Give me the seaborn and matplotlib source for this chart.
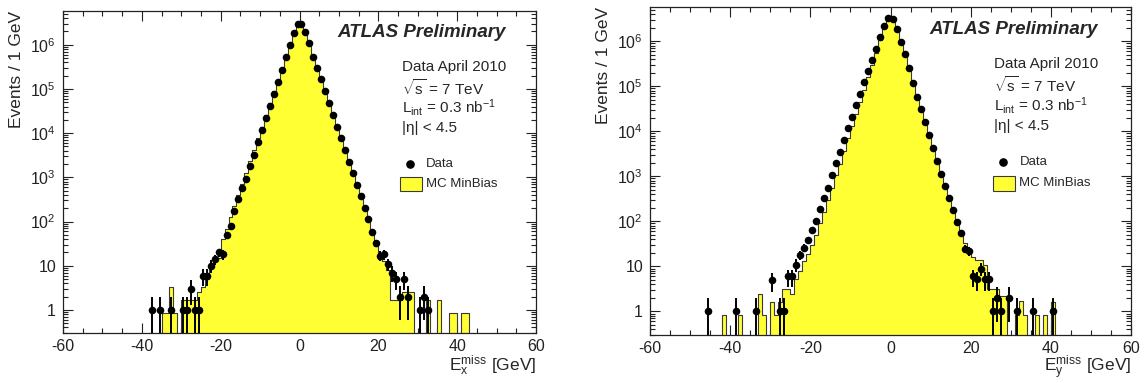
import numpy as np
import pandas as pd
import matplotlib
matplotlib.use("Agg")
import matplotlib.pyplot as plt
import seaborn as sns
from matplotlib.ticker import MultipleLocator, FixedLocator, FuncFormatter, NullFormatter
from matplotlib.patches import Rectangle
from matplotlib.lines import Line2D

# ---------------- data (1 GeV bins) ----------------
# Panel 1 : E_x^miss
ex_data_x = [-37.5, -35.5, -32.5, -29.5, -28.5, -27.5, -26.5, -25.5, -24.5, -23.5,
             -22.5, -21.5, -20.5, -19.5, -18.5, -17.5, -16.5, -15.5, -14.5, -13.5,
             -12.5, -11.5, -10.5, -9.5, -8.5, -7.5, -6.5, -5.5, -4.5, -3.5,
             -2.5, -1.5, -0.5, 0.5, 1.5, 2.5, 3.5, 4.5, 5.5, 6.5,
             7.5, 8.5, 9.5, 10.5, 11.5, 12.5, 13.5, 14.5, 15.5, 16.5,
             17.5, 18.5, 19.5, 20.5, 21.5, 22.5, 23.5, 24.5, 25.5, 26.5,
             27.5, 30.5, 31.5, 32.5]
ex_data_n = [1, 1, 1, 1, 1, 3, 1, 1, 6, 6,
             10, 14, 20, 18, 49, 80, 170, 316, 560, 940,
             1850, 3250, 6200, 11700, 22000, 41000, 76000, 144000, 270000, 515000,
             980000, 1.8e6, 3.0e6, 3.0e6, 1.95e6, 1.07e6, 5.3e5, 3.0e5, 1.65e5, 9.1e4,
             4.9e4, 2.6e4, 1.4e4, 7900, 4150, 2250, 1240, 670, 375, 205,
             112, 59, 33, 17, 18, 11, 7, 5, 2, 5,
             2, 1, 2, 1]
ex_mc_first_center = -35.5
ex_mc = [0, 0.85, 0.85, 3.3, 0.85, 0, 1.7, 1.7, 1.7, 1.7,
         2.5, 3.3, 5, 9, 14, 15, 40, 66, 125, 220,
         400, 720, 1260, 2300, 4100, 7600, 14000, 26000, 48000, 88000,
         1.6e5, 3.0e5, 5.6e5, 1.05e6, 1.9e6, 3.0e6, 3.0e6, 1.95e6, 1.05e6, 5.3e5,
         2.9e5, 1.6e5, 8.8e4, 4.7e4, 2.5e4, 1.35e4, 7400, 3900, 2100, 1150,
         620, 340, 185, 100, 52, 28, 14, 13, 8, 1.7,
         1.7, 1.7, 2.5, 2.5, 2.5, 0, 0, 0, 1.7, 0,
         0, 1.7, 0, 0, 0.85, 0.85, 0, 0.85, 0.85]

# Panel 2 : E_y^miss
ey_data_x = [-45.5, -38.5, -33.5, -29.5, -27.5, -26.5, -25.5, -24.5, -23.5, -22.5,
             -21.5, -20.5, -19.5, -18.5, -17.5, -16.5, -15.5, -14.5, -13.5, -12.5,
             -11.5, -10.5, -9.5, -8.5, -7.5, -6.5, -5.5, -4.5, -3.5, -2.5,
             -1.5, -0.5, 0.5, 1.5, 2.5, 3.5, 4.5, 5.5, 6.5, 7.5,
             8.5, 9.5, 10.5, 11.5, 12.5, 13.5, 14.5, 15.5, 16.5, 17.5,
             18.5, 19.5, 20.5, 21.5, 22.5, 23.5, 24.5, 25.5, 26.5, 27.5,
             29.5, 31.5, 35.5, 40.5]
ey_data_n = [1, 1, 1, 5, 1, 1, 6, 6, 11, 18,
             26, 39, 65, 103, 186, 330, 560, 1070, 1990, 3400,
             6600, 12000, 21000, 38000, 67000, 123000, 220000, 390000, 690000, 1.25e6,
             2.2e6, 3.3e6, 3.1e6, 1.9e6, 9.5e5, 5.2e5, 2.5e5, 1.2e5, 5.8e4, 3.1e4,
             1.6e4, 8300, 4250, 2150, 1120, 600, 340, 180, 98, 55,
             25, 22, 6, 5.2, 9, 5.2, 5.2, 1, 2, 1,
             2, 1, 1, 1]
ey_mc_first_center = -45.5
ey_mc = [0, 0, 0, 0, 0.83, 0, 0, 0, 0.83, 0,
         0, 0, 0, 2.4, 0.83, 0, 1.6, 0.83, 1.6, 3.2,
         3.2, 2.4, 5.2, 8, 13, 19, 30, 50, 90, 165,
         300, 560, 1050, 1900, 3700, 7000, 13000, 24000, 45000, 85000,
         1.6e5, 3.0e5, 5.6e5, 1.05e6, 1.95e6, 3.2e6, 3.1e6, 1.9e6, 1.0e6, 5.2e5,
         2.6e5, 1.3e5, 6.3e4, 3.2e4, 1.65e4, 8500, 4400, 2300, 1200, 640,
         340, 180, 100, 58, 33, 22, 16, 14, 14, 11,
         3.2, 3.2, 3.2, 2.2, 2.2, 0, 0, 0.83, 1.7, 0.83,
         0, 0, 0.83, 0, 0.83, 0, 1.6]

info_lines = ["Data April 2010", r"$\sqrt{\mathrm{s}}$ = 7 TeV",
              r"L$_{\mathrm{int}}$ = 0.3 nb$^{\mathregular{-1}}$", "|η| < 4.5"]
legend_labels = ["Data", "MC MinBias"]
y_major_ticks = [1, 10, 1e2, 1e3, 1e4, 1e5, 1e6]

# ---------------- style ----------------
sns.set_theme(style="ticks")
plt.rcParams.update({
    "font.family": ["Liberation Sans", "DejaVu Sans"],
    "mathtext.fontset": "custom",
    "mathtext.rm": "Liberation Sans",
    "mathtext.it": "Liberation Sans:italic",
    "mathtext.bf": "Liberation Sans:bold",
    "mathtext.sf": "Liberation Sans",
    "axes.unicode_minus": False,
    "axes.edgecolor": "#222222",
    "axes.linewidth": 0.9,
    "xtick.color": "#222222",
    "ytick.color": "#222222",
})

YELLOW = "#ffff33"
EDGE = "#3a3a3a"
bin_edges = [float(v) for v in np.arange(-60, 61, 1)]
y_minor_ticks = [m * d for d in [0.1, 1, 10, 1e2, 1e3, 1e4, 1e5, 1e6] for m in range(2, 10)]


def ylab(v, pos):
    e = int(round(np.log10(v)))
    if e == 0:
        return "1"
    if e == 1:
        return "10"
    return r"$10^{%d}$" % e


def draw_panel(ax, data_x, data_n, mc_first, mc_vals, xsub, xpad):
    mc_x = mc_first + np.arange(len(mc_vals))
    df = pd.DataFrame({"x": mc_x, "w": mc_vals})
    ax.set_yscale("log")
    sns.histplot(data=df, x="x", weights="w", bins=bin_edges, element="step",
                 fill=True, facecolor=YELLOW, edgecolor=EDGE, linewidth=0.8,
                 alpha=1.0, ax=ax, zorder=2)

    dn = np.asarray(data_n, dtype=float)
    err_hi = np.sqrt(dn)
    err_lo = np.minimum(np.sqrt(dn), dn * 0.999)
    ax.errorbar(data_x, dn, yerr=[err_lo, err_hi], fmt="none", ecolor="black",
                elinewidth=1.4, capsize=0, zorder=3)
    sns.scatterplot(x=data_x, y=dn, ax=ax, color="black", s=30, edgecolor="black",
                    linewidth=0, zorder=4)

    ax.set_xlim(-60, 60)
    ax.set_ylim(0.3, 5.8e6)
    ax.xaxis.set_major_locator(MultipleLocator(20))
    ax.xaxis.set_minor_locator(MultipleLocator(5))
    ax.xaxis.set_major_formatter(FuncFormatter(lambda v, p: "%d" % v))
    ax.yaxis.set_major_locator(FixedLocator(y_major_ticks))
    ax.yaxis.set_minor_locator(FixedLocator([t for t in y_minor_ticks if 0.3 <= t <= 5.8e6]))
    ax.yaxis.set_major_formatter(FuncFormatter(ylab))
    ax.yaxis.set_minor_formatter(NullFormatter())
    ax.tick_params(which="both", direction="in", top=True, right=True, width=0.8)
    ax.tick_params(which="major", length=7, labelsize=11.5)
    ax.tick_params(axis="x", which="major", pad=4)
    ax.tick_params(axis="y", which="major", pad=5)
    ax.tick_params(which="minor", length=3.5)

    ax.set_ylabel("Events / 1 GeV", fontsize=12.5, loc="top")
    ax.yaxis.set_label_coords(-0.082, 1.0)
    ax.set_xlabel(r"E$_{\mathrm{%s}}^{\mathrm{miss}}$ [GeV]" % xsub, fontsize=12.5,
                  loc="right", labelpad=xpad)

    ax.text(0.581, 0.932, "ATLAS Preliminary", transform=ax.transAxes,
            fontsize=13.5, fontweight="bold", fontstyle="italic", va="center", ha="left")
    ys = [0.825, 0.761, 0.700, 0.638]
    for txt, yy in zip(info_lines, ys):
        ax.text(0.716, yy, txt, transform=ax.transAxes, fontsize=11,
                va="center", ha="left")

    # legend
    ax.add_line(Line2D([0.734], [0.526], transform=ax.transAxes, marker="o",
                       color="black", markersize=5.2, linestyle="none"))
    ax.text(0.768, 0.526, legend_labels[0], transform=ax.transAxes, fontsize=9.5,
            va="center", ha="left")
    ax.add_patch(Rectangle((0.713, 0.440), 0.046, 0.046, transform=ax.transAxes,
                           facecolor=YELLOW, edgecolor=EDGE, linewidth=0.8))
    ax.text(0.768, 0.463, legend_labels[1], transform=ax.transAxes, fontsize=9.5,
            va="center", ha="left")
    sns.despine(ax=ax, top=False, right=False)


fig = plt.figure(figsize=(11.47, 3.83), dpi=100)
W, H = 1147.0, 383.0
ax1 = fig.add_axes([63 / W, 1 - 333 / H, 473 / W, 322 / H])
ax2 = fig.add_axes([650 / W, 1 - 335 / H, 481 / W, 328 / H])

draw_panel(ax1, ex_data_x, ex_data_n, ex_mc_first_center, ex_mc, "x", 0)
draw_panel(ax2, ey_data_x, ey_data_n, ey_mc_first_center, ey_mc, "y", -1)

fig.savefig("out.png", dpi=100, facecolor="white")
